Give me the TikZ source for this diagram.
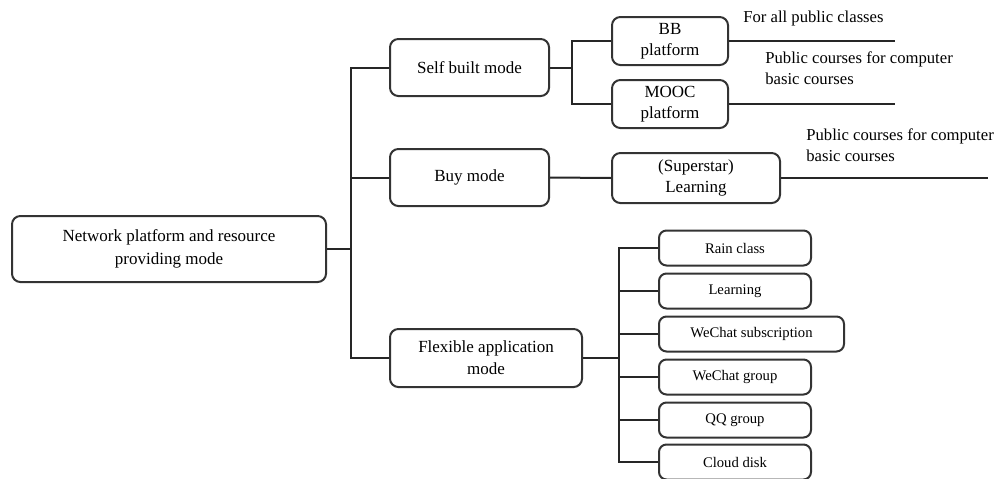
\documentclass[tikz,border=0pt]{standalone}
\usepackage{fontspec}
\setmainfont{Liberation Serif}
\usetikzlibrary{positioning}

\begin{document}
\begin{tikzpicture}[
        x=0.6pt, y=-0.6pt,
        link/.style={line width=1.2pt, draw=black!85},
        modebox/.style={draw=black!80, line width=1.2pt, rounded corners=5pt, fill=white, align=center, inner sep=1pt,
            font=\rmfamily\fontsize{10.2}{12.5}\selectfont},
        toolbox/.style={draw=black!80, line width=1.2pt, rounded corners=4.5pt, fill=white, align=center, inner sep=1pt,
            minimum width=91.2pt, minimum height=21pt, anchor=west, font=\rmfamily\fontsize{8.8}{10.5}\selectfont},
        remark/.style={anchor=west, align=left, inner sep=0pt, font=\rmfamily\fontsize{10}{12.8}\selectfont}
    ]
    \useasboundingbox (0,0) rectangle (999,479);

    % Nodes
    \node (root) [modebox, minimum width=188.4pt, minimum height=39.6pt,
        font=\rmfamily\fontsize{10.2}{13.8}\selectfont] at (169,249)
        {Network platform and resource\\providing mode};

    \node (selfb) [modebox, minimum width=95.4pt, minimum height=34.2pt] at (469.5,67.5) {Self built mode};
    \node (buy) [modebox, minimum width=95.4pt, minimum height=34.2pt] at (469.5,177.5) {Buy mode};
    \node (flex) [modebox, minimum width=115.2pt, minimum height=34.8pt,
        font=\rmfamily\fontsize{10.2}{13.2}\selectfont] at (486,358)
        {Flexible application\\mode};

    \node (bb) [modebox, minimum width=69.6pt, minimum height=28.8pt] at (670,41) {BB\\platform};
    \node (mooc) [modebox, minimum width=69.6pt, minimum height=28.8pt] at (670,104) {MOOC\\platform};
    \node (star) [modebox, minimum width=100.8pt, minimum height=30pt] at (696,178) {(Superstar)\\Learning};

    \node (rain) [toolbox] at (658,248) {Rain class};
    \node (learn) [toolbox] at (658,291) {Learning};
    \node (wsub) [toolbox, minimum width=111pt] at (658,334) {WeChat subscription};
    \node (wgroup) [toolbox] at (658,377) {WeChat group};
    \node (qq) [toolbox] at (658,420) {QQ group};
    \node (cloud) [toolbox] at (658,462) {Cloud disk};

    \node (bbnote) [remark] at (743,18) {For all public classes};
    \node (moocnote) [remark] at (765,68) {Public courses for computer\\basic courses};
    \node (starnote) [remark] at (806,145) {Public courses for computer\\basic courses};

    \coordinate (trunk) at (351,0);
    \coordinate (sbfork) at (572,0);
    \coordinate (flexfork) at (619,0);
    \coordinate (bbend) at (895,41);
    \coordinate (moocend) at (895,104);
    \coordinate (starend) at (988,178);

    % Edges
    \draw[link] (root.east) -- (root.east -| trunk);
    \draw[link] (selfb.west) -- (selfb.west -| trunk) -- (flex.west -| trunk) -- (flex.west);
    \draw[link] (buy.west) -- (buy.west -| trunk);

    \draw[link] (selfb.east) -- (selfb.east -| sbfork);
    \draw[link] (bb.west) -- (bb.west -| sbfork) -- (mooc.west -| sbfork) -- (mooc.west);
    \draw[link] (buy.east) -- (star.west);

    \draw[link] (flex.east) -- (flex.east -| flexfork);
    \draw[link] (rain.west) -- (rain.west -| flexfork) -- (cloud.west -| flexfork) -- (cloud.west);
    \foreach \t in {learn, wsub, wgroup, qq}
        \draw[link] (\t.west) -- (\t.west -| flexfork);

    \draw[link] (bb.east) -- (bbend);
    \draw[link] (mooc.east) -- (moocend);
    \draw[link] (star.east) -- (starend);

\end{tikzpicture}
\end{document}
